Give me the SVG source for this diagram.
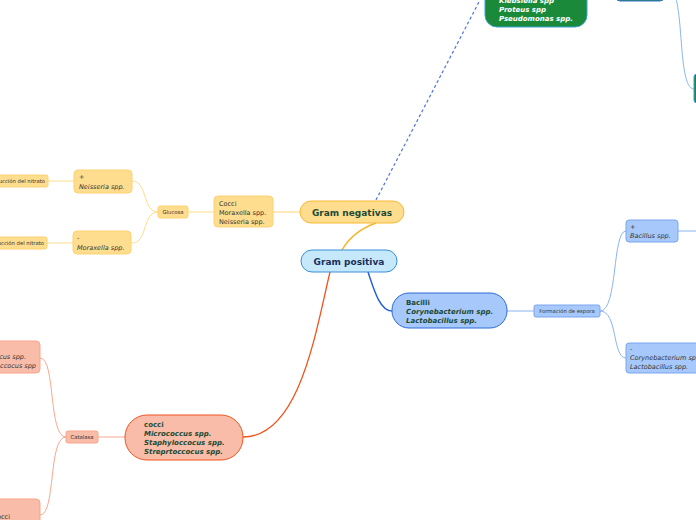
<svg xmlns="http://www.w3.org/2000/svg" width="696" height="520" viewBox="0 0 696 520">
<style>
text{font-family:"DejaVu Sans","Verdana",sans-serif;}
.y{fill:#fedd8e;stroke:#fcd273;stroke-width:1}
.b{fill:#a6c8fb;stroke:#7aa6ee;stroke-width:1}
.s{fill:#f9bca8;stroke:#f9a58c;stroke-width:1}
.t{font-size:6.5px;fill:#333}
.ti{font-size:6.5px;fill:#333;font-style:italic}
.sm{font-size:5.3px;fill:#333}
.bt{font-size:7px;font-weight:bold;fill:#1c4a35}
.bti{font-size:7px;font-weight:bold;font-style:italic;fill:#1c4a35}
.wt{font-size:7px;font-weight:bold;font-style:italic;fill:#fff}
</style>
<g id="connectors" fill="none">
<path d="M342 250 C350 236 362 228 376 223" stroke="#f9b52d" stroke-width="1.5"/>
<path d="M376 200 L480 0" stroke="#4f72e0" stroke-width="1.2" stroke-dasharray="3,2.5"/>
<path d="M668 -12 C686 -12 676 89 694 89" stroke="#8ab4f0" stroke-width="1"/>
<path d="M368 272 C374 290 380 311 392 311" stroke="#1d5fd6" stroke-width="1.5"/>
<path d="M507 311 L534 311" stroke="#8ab4f0" stroke-width="1"/>
<path d="M600 311 C618 311 612 231 626 231" stroke="#8ab4f0" stroke-width="1"/>
<path d="M600 311 C618 311 612 358 626 358" stroke="#8ab4f0" stroke-width="1"/>
<path d="M678 231 L696 231" stroke="#8ab4f0" stroke-width="1"/>
<path d="M330 272 C316 330 300 437 243 437" stroke="#f0541e" stroke-width="1.3"/>
<path d="M125 437 L98 437" stroke="#f9a890" stroke-width="1"/>
<path d="M66 437 C48 437 56 358 40 358" stroke="#f9a890" stroke-width="1"/>
<path d="M66 437 C48 437 56 515 40 515" stroke="#f9a890" stroke-width="1"/>
<path d="M300 212 L273 212" stroke="#fedd8e" stroke-width="1.2"/>
<path d="M214 212 L188 212" stroke="#fedd8e" stroke-width="1"/>
<path d="M158 212 C142 212 148 181 132 181" stroke="#fedd8e" stroke-width="1"/>
<path d="M158 212 C142 212 148 243 132 243" stroke="#fedd8e" stroke-width="1"/>
<path d="M74 181 L48 181" stroke="#fedd8e" stroke-width="1"/>
<path d="M73 243 L47 243" stroke="#fedd8e" stroke-width="1"/>
</g>
<g id="gram-positiva">
<rect x="301" y="250" width="96" height="22" rx="11" fill="#c6e8fb" stroke="#3a8fd8" stroke-width="1"/>
<text x="349" y="265" text-anchor="middle" font-size="9" font-weight="bold" fill="#1b2f5a">Gram positiva</text>
</g>
<g id="gram-negativas">
<rect x="300" y="201" width="104" height="22" rx="11" fill="#fedd8e" stroke="#f8b733" stroke-width="1"/>
<text x="352" y="216" text-anchor="middle" font-size="9" font-weight="bold" fill="#1c4a35">Gram negativas</text>
</g>
<g id="green-top">
<rect x="485" y="-22" width="102" height="49" rx="12" fill="#1a8a3a" stroke="#3aa0d8" stroke-width="1"/>
<text class="wt" x="499" y="3">Klebsiella spp</text>
<text class="wt" x="499" y="12">Proteus spp</text>
<text class="wt" x="499" y="20.5">Pseudomonas spp.</text>
</g>
<g id="green-top-right">
<rect x="616" y="-20" width="48" height="21" rx="4" fill="#1a8a3a" stroke="#3a70d8" stroke-width="1"/>
</g>
<g id="green-right">
<rect x="694" y="74" width="20" height="29" rx="3" fill="#1a8a3a" stroke="#3aa0d8" stroke-width="1"/>
</g>
<g id="bacilli">
<rect x="392" y="293" width="115" height="35" rx="17" fill="#a6c8fb" stroke="#2a6ad8" stroke-width="1"/>
<text class="bt" x="406" y="305">Bacilli</text>
<text class="bti" x="406" y="314">Corynebacterium spp.</text>
<text class="bti" x="406" y="323">Lactobacillus spp.</text>
</g>
<g id="formacion-espora">
<rect class="b" x="534" y="305" width="66" height="12" rx="2"/>
<text class="sm" x="567" y="313" text-anchor="middle">Formación de espora</text>
</g>
<g id="bacillus-pos">
<rect class="b" x="626" y="220" width="52" height="22" rx="3"/>
<text class="t" x="630" y="229">+</text>
<text class="ti" x="630" y="238">Bacillus spp.</text>
</g>
<g id="bacillus-neg">
<rect class="b" x="626" y="343" width="90" height="30" rx="3"/>
<text class="t" x="630" y="351">-</text>
<text class="ti" x="630" y="360">Corynebacterium spp.</text>
<text class="ti" x="630" y="369">Lactobacillus spp.</text>
</g>
<g id="cocci-pos">
<rect x="125" y="415" width="118" height="45" rx="22" fill="#f9bca8" stroke="#f0541e" stroke-width="1"/>
<text class="bt" x="144" y="427">cocci</text>
<text class="bti" x="144" y="436">Micrococcus spp.</text>
<text class="bti" x="144" y="445">Staphyloccocus spp.</text>
<text class="bti" x="144" y="454">Streprtoccocus spp.</text>
</g>
<g id="catalasa">
<rect class="s" x="66" y="431" width="32" height="12" rx="2"/>
<text class="sm" x="82" y="439" text-anchor="middle">Catalasa</text>
</g>
<g id="catalasa-pos">
<rect class="s" x="-40" y="341" width="80" height="32" rx="4"/>
<text class="ti" x="26" y="359" text-anchor="end">Micrococcus spp.</text>
<text class="ti" x="36" y="368" text-anchor="end">Staphyloccocus spp</text>
</g>
<g id="catalasa-neg">
<rect class="s" x="-40" y="499" width="80" height="40" rx="4"/>
<text class="t" x="10" y="519" text-anchor="end">cocci</text>
</g>
<g id="cocci-neg">
<rect class="y" x="214" y="196" width="59" height="31" rx="4"/>
<text class="t" x="219" y="206">Cocci</text>
<text class="t" x="219" y="215">Moraxella spp.</text>
<text class="t" x="219" y="224">Neisseria spp.</text>
</g>
<g id="glucosa">
<rect class="y" x="158" y="206" width="30" height="12" rx="2"/>
<text class="sm" x="173" y="214" text-anchor="middle">Glucosa</text>
</g>
<g id="neisseria">
<rect class="y" x="74" y="170" width="58" height="23" rx="4"/>
<text class="t" x="79" y="179">+</text>
<text class="ti" x="79" y="189">Neisseria spp.</text>
</g>
<g id="moraxella">
<rect class="y" x="73" y="231" width="58" height="23" rx="4"/>
<text class="t" x="77" y="240">-</text>
<text class="ti" x="77" y="250">Moraxella spp.</text>
</g>
<g id="nitrato-1">
<rect class="y" x="-30" y="175" width="78" height="12" rx="2"/>
<text class="sm" x="45" y="183" text-anchor="end">Reducción del nitrato</text>
</g>
<g id="nitrato-2">
<rect class="y" x="-30" y="237" width="77" height="12" rx="2"/>
<text class="sm" x="44" y="245" text-anchor="end">Reducción del nitrato</text>
</g>
</svg>
